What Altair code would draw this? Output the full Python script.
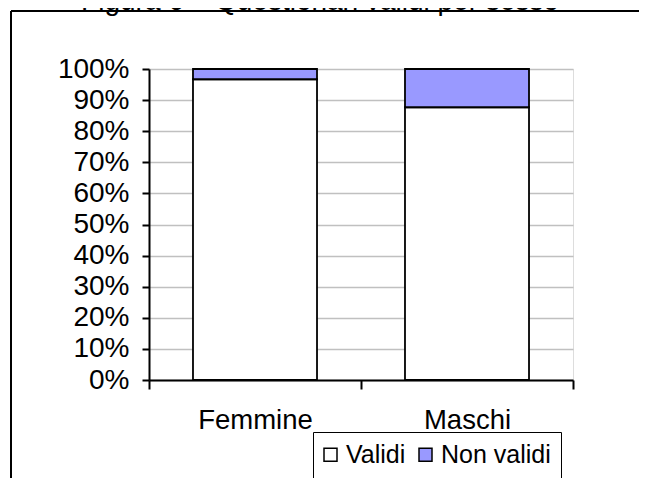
import altair as alt
import pandas as pd

title_text = "Figura 6 – Questionari validi per sesso"
categories = ["Femmine", "Maschi"]
series = ["Validi", "Non validi"]
validi = [96.7, 87.7]
non_validi = [3.3, 12.3]
series_colors = ["#FFFFFF", "#9999FF"]

rows = []
for i, c in enumerate(categories):
    rows.append({"Sesso": c, "Serie": "Validi", "ord": 0, "valore": validi[i] / 100})
    rows.append({"Sesso": c, "Serie": "Non validi", "ord": 1, "valore": non_validi[i] / 100})
df = pd.DataFrame(rows)

FONT = "Liberation Sans"

bars = alt.Chart(df).mark_bar(stroke="black", strokeWidth=1.8,
                              width=alt.RelativeBandSize(0.585)).encode(
    x=alt.X("Sesso:N", sort=categories, title=None,
            scale=alt.Scale(paddingInner=0, paddingOuter=0),
            axis=alt.Axis(tickBand="extent", tickSize=9, tickColor="black", tickWidth=2,
                          domainColor="black", domainWidth=2, labelAngle=0,
                          labelFontSize=27.5, labelPadding=17, labelColor="black",
                          labelFont=FONT, grid=False)),
    y=alt.Y("valore:Q", stack="zero", title=None,
            scale=alt.Scale(domain=[0, 1], nice=False),
            axis=alt.Axis(values=[i / 10 for i in range(11)], format=".0%",
                          tickSize=7, tickColor="black", tickWidth=2,
                          domainColor="black", domainWidth=2,
                          labelFontSize=28, labelPadding=13, labelColor="black",
                          labelFont=FONT, grid=True, gridColor="#c0c0c0", gridWidth=1.5)),
    color=alt.Color("Serie:N", sort=series,
                    scale=alt.Scale(domain=series, range=series_colors),
                    legend=alt.Legend(title=None, orient="none", legendX=164, legendY=363,
                                      direction="horizontal", strokeColor="black",
                                      padding=10, labelFontSize=25, labelFont=FONT,
                                      labelColor="black", symbolType="square",
                                      symbolSize=169, symbolStrokeColor="black",
                                      symbolStrokeWidth=1.5, labelOffset=3,
                                      symbolOffset=-5,
                                      columnPadding=10, fillColor="white")),
    order=alt.Order("ord:Q"),
)

one = alt.Data(values=[{"t": title_text}])

title = alt.Chart(one).mark_text(fontSize=28, font=FONT, color="black",
                                 align="center", baseline="alphabetic").encode(
    x=alt.value(171), y=alt.value(-59), text="t:N")

frame_h = alt.Chart(one).mark_rule(color="black", strokeWidth=2).encode(
    x=alt.value(-138), x2=alt.value(700), y=alt.value(-58))
frame_v = alt.Chart(one).mark_rule(color="black", strokeWidth=2).encode(
    x=alt.value(-138), y=alt.value(-58), y2=alt.value(600))

chart = alt.layer(frame_h, frame_v, bars, title).properties(
    width=424, height=311,
    padding={"left": 141, "top": 61, "right": 66, "bottom": 98},
    autosize=alt.AutoSizeParams(type="none"),
).configure_view(stroke=None).configure(background="white")

chart.save("out.html", embed_options={"renderer": "svg", "actions": False})
